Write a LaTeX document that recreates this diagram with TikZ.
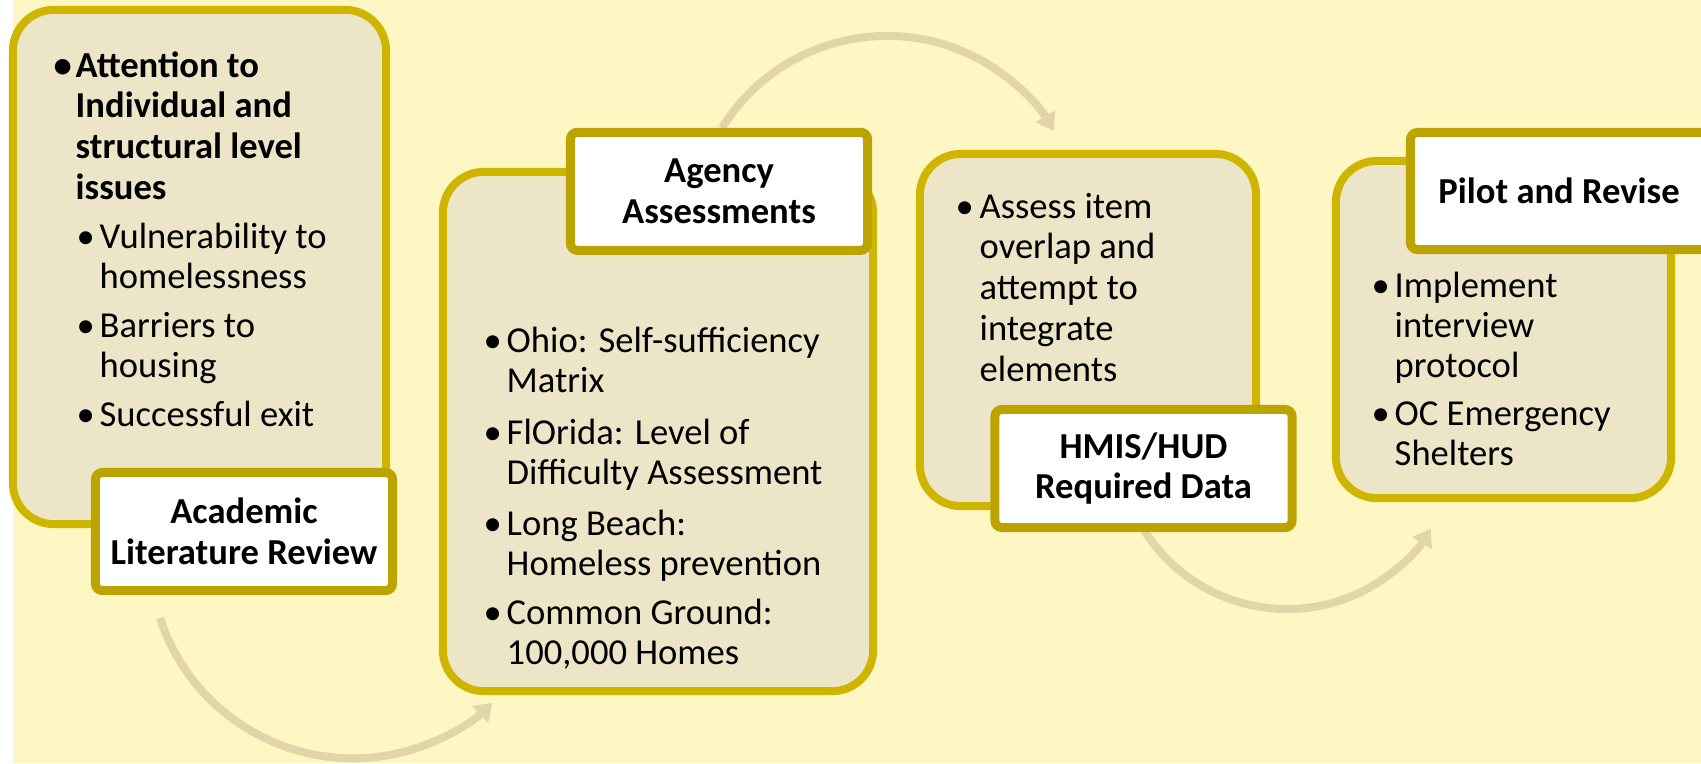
\documentclass[tikz,border=0pt]{standalone}
\usepackage{fontspec}
\setmainfont{Carlito}
\usepackage{tikz}
\usetikzlibrary{shapes,arrows.meta}

\definecolor{bgyellow}{HTML}{FFF7C3}
\definecolor{panelfill}{HTML}{EDE5C8}
\definecolor{paneledge}{HTML}{CEB600}
\definecolor{tagedge}{HTML}{BCA400}
\definecolor{flowcol}{HTML}{E2D5A9}

\newcommand{\bul}[2][0.23cm]{\makebox[#1][l]{\textbullet}\begin{tabular}[t]{@{}l@{}}#2\end{tabular}}

\begin{document}
\begin{tikzpicture}[x=0.01cm,y=-0.01cm]
      \tikzstyle{panel}=[rectangle,rounded corners=0.41cm,draw=paneledge,fill=panelfill,line width=0.08cm,inner sep=0pt]
      \tikzstyle{tag}=[rectangle,rounded corners=0.07cm,draw=tagedge,fill=white,line width=0.09cm,inner sep=0pt,minimum width=2.97cm,minimum height=1.18cm,align=center,font=\fontsize{10.4}{11.6}\selectfont\bfseries]
      \tikzstyle{entry}=[anchor=base west,inner sep=0pt,font=\fontsize{10.4}{11.6}\selectfont]
      \tikzstyle{flow}=[draw=flowcol,line width=0.08cm,-{Triangle[length=0.17cm,width=0.22cm]}]

      \useasboundingbox (0,0) rectangle (1701,763);
      \fill[bgyellow] (13,0) rectangle (1701,763);

      % curved arrows, behind the boxes
      \coordinate (flowa) at (160,618);
      \coordinate (flowb) at (722,128);
      \coordinate (flowc) at (1140.6,524.5);
      \draw[flow] (flowa) arc[start angle=162,end angle=46.6,radius=203];
      \draw[flow] (flowb) arc[start angle=-148.3,end angle=-30.7,radius=194];
      \draw[flow] (flowc) arc[start angle=150,end angle=31.6,radius=169];

      % panels
      \node[panel,minimum width=3.73cm,minimum height=5.14cm] (review) at (199.5,267) {};
      \node[panel,minimum width=4.30cm,minimum height=5.19cm] (agency) at (658,431.5) {};
      \node[panel,minimum width=3.36cm,minimum height=3.52cm] (hmis) at (1088,330) {};
      \node[panel,minimum width=3.35cm,minimum height=3.37cm] (pilot) at (1503.5,329.5) {};

      % titles
      \node[tag] (reviewtag) at (244,531.5) {Academic\\Literature Review};
      \node[tag] (agencytag) at (719,191.3) {Agency\\Assessments};
      \node[tag] (hmistag) at (1143.5,468.5) {HMIS/HUD\\Required Data};
      \node[tag,minimum height=1.17cm] (pilottag) at (1559,191) {Pilot and Revise};

      % bullet text
      \node[entry,font=\fontsize{10.4}{11.6}\selectfont\bfseries] (reviewa) at (53,77) {\bul[0.22cm]{Attention to\\Individual and\\structural level\\issues}};
      \node[entry] (reviewb) at (76,248) {\bul{Vulnerability to\\homelessness}};
      \node[entry] (reviewc) at (76,337) {\bul{Barriers to\\housing}};
      \node[entry] (reviewd) at (76,426) {\bul{Successful exit}};

      \node[entry] (agencya) at (483,352) {\bul{Ohio: Self-sufficiency\\Matrix}};
      \node[entry] (agencyb) at (483,444) {\bul{FlOrida: Level of\\Difficulty Assessment}};
      \node[entry] (agencyc) at (483,535) {\bul{Long Beach:\\Homeless prevention}};
      \node[entry] (agencyd) at (483,624) {\bul{Common Ground:\\100,000 Homes}};

      \node[entry] (hmisa) at (955,218) {\bul[0.24cm]{Assess item\\overlap and\\attempt to\\integrate\\elements}};

      \node[entry,font=\fontsize{10.4}{11.4}\selectfont] (pilota) at (1371,297) {\bul{Implement\\interview\\protocol}};
      \node[entry,font=\fontsize{10.4}{11.4}\selectfont] (pilotb) at (1371,425) {\bul{OC Emergency\\Shelters}};
\end{tikzpicture}
\end{document}
